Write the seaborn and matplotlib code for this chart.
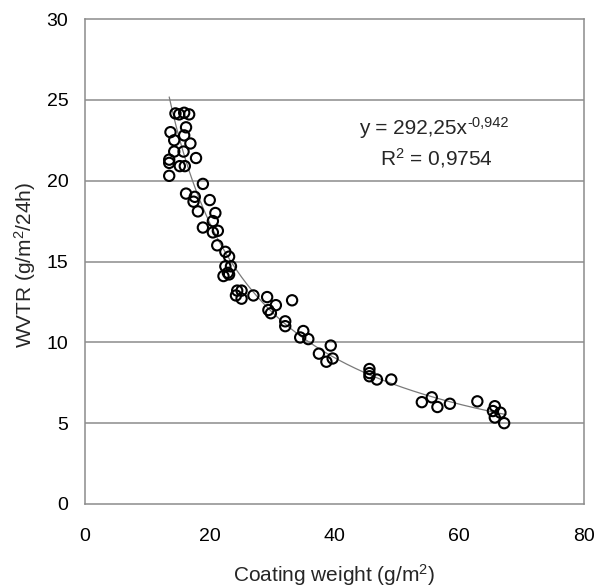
import numpy as np
import pandas as pd
import matplotlib
matplotlib.use("Agg")
import matplotlib.pyplot as plt
import seaborn as sns
from matplotlib.ticker import MultipleLocator

sns.set_theme(style="white")
plt.rcParams['font.family'] = ['Liberation Sans', 'DejaVu Sans']
plt.rcParams['mathtext.fontset'] = 'custom'
plt.rcParams['mathtext.rm'] = 'Liberation Sans'
plt.rcParams['mathtext.it'] = 'Liberation Sans'

coating_weight = [14.5, 15.1, 15.9, 16.7, 16.2, 13.7, 15.9, 14.3, 16.9, 14.3,
                  15.8, 13.5, 13.5, 17.8, 15.2, 16.0, 13.5, 18.9, 16.2, 17.6,
                  17.4, 20.0, 18.1, 20.9, 20.5, 18.9, 20.5, 21.3, 21.2, 22.5,
                  23.1, 22.5, 23.4, 22.9, 22.2, 23.1, 24.4, 25.1, 24.2, 25.1,
                  27.0, 29.2, 30.6, 29.4, 29.8, 33.2, 32.1, 32.1, 35.0, 34.5,
                  35.8, 39.4, 37.5, 38.7, 39.7, 45.6, 45.6, 45.6, 46.8, 49.1,
                  54.0, 55.6, 56.5, 58.5, 62.9, 65.7, 65.4, 66.6, 65.7, 67.2]
wvtr = [24.16, 24.1, 24.2, 24.1, 23.3, 23.0, 22.8, 22.5, 22.3, 21.8,
        21.8, 21.3, 21.1, 21.4, 20.9, 20.9, 20.3, 19.8, 19.2, 19.0,
        18.7, 18.8, 18.1, 18.0, 17.5, 17.1, 16.8, 16.9, 16.0, 15.6,
        15.3, 14.7, 14.7, 14.3, 14.1, 14.2, 13.2, 13.2, 12.9, 12.7,
        12.9, 12.8, 12.3, 12.0, 11.8, 12.6, 11.3, 11.0, 10.7, 10.3,
        10.2, 9.8, 9.3, 8.8, 9.0, 8.35, 8.1, 7.9, 7.7, 7.7,
        6.3, 6.6, 6.0, 6.2, 6.35, 6.05, 5.75, 5.65, 5.35, 5.0]

# displayed power trendline coefficients
fit_a = 292.25
fit_b = -0.942
fit_xmin, fit_xmax = 13.5, 67.5

df = pd.DataFrame({"Coating weight": coating_weight, "WVTR": wvtr})

fig = plt.figure(figsize=(5.96, 5.87), dpi=100)
ax = fig.add_axes([85/596, 1-504/587, (584-85)/596, (504-19)/587])

xf = np.linspace(fit_xmin, fit_xmax, 200)
fit_df = pd.DataFrame({"x": xf, "y": fit_a * xf ** fit_b})
sns.lineplot(data=fit_df, x="x", y="y", ax=ax, color="#7a7a7a", lw=0.9, zorder=2)

sns.scatterplot(data=df, x="Coating weight", y="WVTR", ax=ax, s=55,
                facecolor="none", edgecolor="black", linewidth=1.5, zorder=3)

ax.set_xlim(0, 80)
ax.set_ylim(0, 30)
ax.xaxis.set_major_locator(MultipleLocator(20))
ax.xaxis.set_minor_locator(MultipleLocator(4))
ax.yaxis.set_major_locator(MultipleLocator(5))
ax.yaxis.set_minor_locator(MultipleLocator(1))

for y in [5, 10, 15, 20, 25]:
    ax.axhline(y, color="#8c8c8c", lw=1.1, zorder=1)

for s in ax.spines.values():
    s.set_color("#8c8c8c")
    s.set_linewidth(1.1)

ax.tick_params(axis="both", which="both", direction="in", color="#8c8c8c",
               labelsize=14, labelcolor="black")
ax.tick_params(axis="both", which="major", length=5, width=1)
ax.tick_params(axis="both", which="minor", length=4, width=1)
ax.tick_params(axis="x", which="both", pad=17)
ax.tick_params(axis="y", which="both", pad=12)

ax.set_xlabel("Coating weight (g/m$^{2}$)", fontsize=15)
ax.set_ylabel("WVTR (g/m$^{2}$/24h)", fontsize=15)
ax.xaxis.label.set_va("center")
ax.yaxis.label.set_va("center")
ax.xaxis.set_label_coords(0.5, (504 - 575) / 485)
ax.yaxis.set_label_coords((25 - 85) / 499, (504 - 265) / 485)

t1 = ax.text((359 - 85) / 499, (504 - 128) / 485, "y = 292,25x", transform=ax.transAxes,
             ha="left", va="center", fontsize=15)
ax.annotate("-0,942", xy=(1, 1), xycoords=t1, xytext=(0.5, 1.5), textcoords="offset points",
            ha="left", va="top", fontsize=10.5)
ax.text((380 - 85) / 499, (504 - 158) / 485, "R$^{2}$ = 0,9754", transform=ax.transAxes,
        ha="left", va="center", fontsize=15)

fig.savefig("out.png", dpi=100)
